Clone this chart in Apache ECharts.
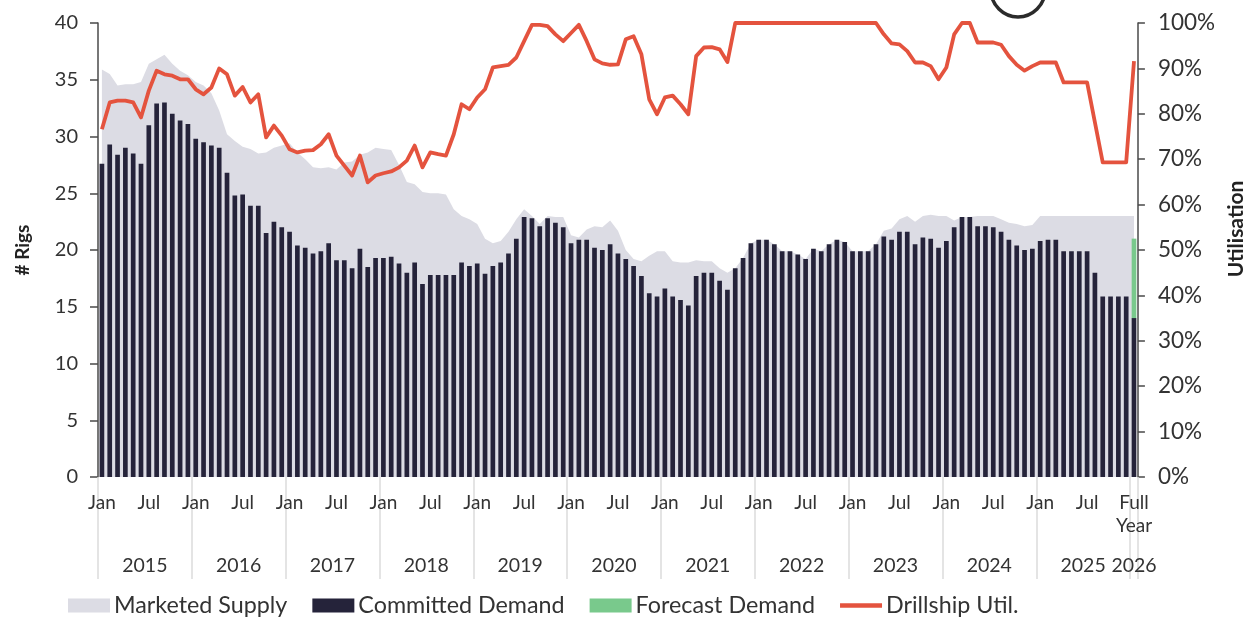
<!DOCTYPE html>
<html>
<head>
<meta charset="utf-8">
<title>Drillship supply, demand and utilisation</title>
<script src="https://cdn.jsdelivr.net/npm/echarts@6/dist/echarts.min.js"></script>
<style>
  html, body { margin: 0; padding: 0; background: #ffffff; }
  #chart { width: 1255px; height: 621px; }
</style>
</head>
<body>
<div id="chart"></div>
<script>
// Monthly categories Jan 2015 .. Dec 2025, then one "Full Year 2026" bucket
const years = [2015, 2016, 2017, 2018, 2019, 2020, 2021, 2022, 2023, 2024, 2025];
const monthNames = ['Jan', 'Feb', 'Mar', 'Apr', 'May', 'Jun', 'Jul', 'Aug', 'Sep', 'Oct', 'Nov', 'Dec'];
const fullYearLabel = '2026 FY';

// Marketed supply (# rigs)
const marketedSupply = [
  35.9, 35.5, 34.5, 34.6, 34.6, 34.8, 36.4, 36.8, 37.2, 36.4, 35.8, 35.4,
  34.8, 34.5, 33.8, 32.3, 30.2, 29.6, 29.1, 28.9, 28.5, 28.6, 29.0, 29.2,
  29.4, 28.6, 28.0, 27.3, 27.2, 27.3, 27.1, 27.7, 27.8, 28.4, 28.6, 29.0,
  28.9, 28.8, 27.5, 26.0, 25.8, 25.1, 25.0, 25.0, 24.9, 23.6, 23.0, 22.7,
  22.3, 21.0, 20.6, 20.8, 21.6, 22.7, 23.6, 23.0, 22.3, 23.0, 22.9, 22.9,
  21.3, 21.1, 21.8, 22.1, 22.0, 22.6, 21.7, 20.0, 19.2, 19.0, 19.5, 19.9,
  19.9, 19.0, 18.9, 18.9, 19.1, 19.0, 19.0, 18.4, 18.0, 18.4, 19.3, 20.6,
  20.9, 20.9, 20.5, 19.9, 19.9, 19.6, 19.2, 20.1, 19.9, 20.5, 20.9, 20.7,
  19.9, 19.9, 19.9, 20.5, 21.7, 21.9, 22.7, 23.0, 22.5, 23.0, 23.1, 23.0,
  23.0, 22.6, 22.9, 22.9, 23.0, 23.0, 23.0, 22.7, 22.4, 22.3, 22.1, 22.2,
  23.0, 23.0, 23.0, 23.0, 23.0, 23.0, 23.0, 23.0, 23.0, 23.0, 23.0, 23.0,
  23.0
];

// Committed demand (# rigs)
const committedDemand = [
  27.6, 29.3, 28.4, 29.0, 28.5, 27.6, 31.0, 32.9, 33.0, 32.0, 31.4, 31.1,
  29.8, 29.5, 29.2, 29.0, 26.8, 24.8, 24.9, 23.9, 23.9, 21.5, 22.5, 22.0,
  21.6, 20.4, 20.2, 19.7, 19.9, 20.6, 19.1, 19.1, 18.4, 20.1, 18.5, 19.3,
  19.3, 19.4, 18.8, 18.0, 18.9, 17.0, 17.8, 17.8, 17.8, 17.8, 18.9, 18.6,
  18.8, 17.9, 18.6, 18.9, 19.7, 21.0, 22.9, 22.8, 22.1, 22.8, 22.4, 22.0,
  20.6, 20.9, 20.9, 20.2, 20.0, 20.5, 19.7, 19.2, 18.6, 17.7, 16.2, 15.9,
  16.6, 15.9, 15.6, 15.1, 17.7, 18.0, 18.0, 17.3, 16.5, 18.4, 19.3, 20.6,
  20.9, 20.9, 20.5, 19.9, 19.9, 19.6, 19.2, 20.1, 19.9, 20.5, 20.9, 20.7,
  19.9, 19.9, 19.9, 20.5, 21.2, 20.9, 21.6, 21.6, 20.5, 21.1, 21.0, 20.2,
  20.8, 22.0, 22.9, 22.9, 22.1, 22.1, 22.0, 21.6, 20.9, 20.4, 20.0, 20.1,
  20.8, 20.9, 20.9, 19.9, 19.9, 19.9, 19.9, 18.0, 15.9, 15.9, 15.9, 15.9,
  14.0
];

// Forecast demand on top of committed demand (only the 2026 bucket)
const forecastDemand = new Array(132).fill(null).concat([7.0]);

// Drillship utilisation (%)
const drillshipUtil = [
  76.6, 82.5, 82.9, 82.9, 82.5, 79.2, 85.1, 89.5, 88.7, 88.4, 87.6, 87.6,
  85.4, 84.3, 85.8, 90.0, 88.7, 84.0, 85.9, 82.5, 84.3, 74.8, 77.4, 75.2,
  72.2, 71.5, 71.9, 72.0, 73.3, 75.5, 70.8, 68.6, 66.4, 70.8, 64.9, 66.4,
  66.9, 67.3, 68.2, 69.7, 73.0, 68.2, 71.5, 71.1, 70.8, 75.5, 82.1, 81.0,
  83.6, 85.4, 90.2, 90.5, 90.8, 92.4, 96.0, 99.6, 99.6, 99.3, 97.5, 96.0,
  97.8, 99.6, 96.0, 92.0, 91.1, 90.8, 90.9, 96.4, 97.1, 93.1, 83.2, 79.9,
  83.6, 84.0, 82.1, 79.9, 92.7, 94.6, 94.7, 94.2, 91.4, 100, 100, 100,
  100, 100, 100, 100, 100, 100, 100, 100, 100, 100, 100, 100,
  100, 100, 100, 100, 97.5, 95.5, 95.3, 93.8, 91.3, 91.3, 90.5, 87.6,
  90.2, 97.5, 100, 100, 95.7, 95.7, 95.7, 95.2, 92.7, 90.8, 89.5, 90.5,
  91.3, 91.3, 91.3, 86.9, 86.9, 86.9, 86.9, 78.1, 69.3, 69.3, 69.3, 69.3,
  91.6
];

// Axis tick labels
const rigTicks = [0, 5, 10, 15, 20, 25, 30, 35, 40];
const utilTicks = [0, 10, 20, 30, 40, 50, 60, 70, 80, 90, 100];

const categories = [];
years.forEach(y => monthNames.forEach(m => categories.push(m + ' ' + y)));
categories.push(fullYearLabel);
const lastIdx = categories.length - 1;

const FONT = 'Lato';
const TEXT = '#333333';
const AXIS = '#4a4a4a';
const RED = '#e4533e';

const chart = echarts.init(document.getElementById('chart'), null, { renderer: 'canvas' });

chart.setOption({
  backgroundColor: '#ffffff',
  animation: false,
  textStyle: { fontFamily: FONT, color: TEXT },
  grid: { left: 98, right: 113, top: 23, bottom: 144, containLabel: false },
  legend: {
    left: 63,
    top: 589,
    itemWidth: 42,
    itemHeight: 14,
    itemGap: 25,
    symbolKeepAspect: true,
    textStyle: { fontFamily: FONT, fontSize: 23.3, color: TEXT, padding: [0, 0, 0, -1] },
    data: [
      { name: 'Marketed Supply', icon: 'rect' },
      { name: 'Committed Demand', icon: 'rect' },
      { name: 'Forecast Demand', icon: 'rect' },
      { name: 'Drillship Util.', icon: 'path://M0,0L42,0L42,4.5L0,4.5Z', itemStyle: { color: RED } }
    ]
  },
  xAxis: [
    {
      type: 'category',
      data: categories,
      boundaryGap: true,
      axisLine: { show: false },
      axisTick: {
        show: true,
        interval: (i) => i % 12 === 0 || i === lastIdx,
        length: 102,
        lineStyle: { color: '#dcdcdc', width: 1.5 }
      },
      axisLabel: {
        interval: 0,
        margin: 14,
        fontFamily: FONT,
        fontSize: 19,
        color: TEXT,
        lineHeight: 23,
        formatter: (v, i) => {
          if (i === lastIdx) return 'Full\nYear';
          if (i % 12 === 0) return 'Jan';
          if (i % 12 === 6) return 'Jul';
          return '';
        }
      },
      splitLine: { show: false }
    },
    {
      type: 'category',
      data: categories,
      position: 'bottom',
      boundaryGap: true,
      axisLine: { show: false },
      axisTick: { show: false },
      axisLabel: {
        interval: 0,
        margin: 79,
        fontFamily: FONT,
        fontSize: 19.5,
        color: TEXT,
        formatter: (v, i) => {
          if (i === lastIdx) return '{z|2026}';
          if (i % 12 === 6) return '{y|' + years[Math.floor(i / 12)] + '}';
          return '';
        },
        rich: {
          y: { fontFamily: FONT, fontSize: 19.5, color: TEXT, padding: [0, 8, 0, 0] },
          z: { fontFamily: FONT, fontSize: 19.5, color: TEXT }
        }
      },
      splitLine: { show: false }
    }
  ],
  yAxis: [
    {
      type: 'value',
      min: rigTicks[0],
      max: rigTicks[rigTicks.length - 1],
      interval: 5,
      position: 'left',
      name: '# Rigs',
      nameLocation: 'middle',
      nameRotate: 90,
      nameGap: 66,
      nameTextStyle: { fontFamily: FONT, fontSize: 19, fontWeight: 'bold', color: '#222' },
      axisLine: { show: true, lineStyle: { color: AXIS, width: 1.5 } },
      axisTick: { show: true, length: 8, lineStyle: { color: AXIS, width: 1.5 } },
      axisLabel: { margin: 20, fontFamily: FONT, fontSize: 20, color: TEXT },
      splitLine: { show: false }
    },
    {
      type: 'value',
      min: utilTicks[0],
      max: utilTicks[utilTicks.length - 1],
      interval: 10,
      position: 'right',
      name: 'Utilisation',
      nameLocation: 'middle',
      nameRotate: 90,
      nameGap: 88,
      nameTextStyle: { fontFamily: FONT, fontSize: 21, fontWeight: 'bold', color: '#222', padding: [0, 0, 0, 42] },
      axisLine: { show: true, lineStyle: { color: AXIS, width: 1.5 } },
      axisTick: { show: true, length: 7, lineStyle: { color: AXIS, width: 1.5 } },
      axisLabel: { margin: 20, fontFamily: FONT, fontSize: 22.5, color: TEXT, formatter: '{value}%' },
      splitLine: { show: false }
    }
  ],
  series: [
    {
      name: 'Marketed Supply',
      type: 'line',
      data: marketedSupply,
      symbol: 'none',
      z: 1,
      itemStyle: { color: '#dcdce4' },
      lineStyle: { width: 0, color: '#dcdce4' },
      areaStyle: { color: '#dcdce4', opacity: 1 }
    },
    {
      name: 'Committed Demand',
      type: 'bar',
      stack: 'demand',
      data: committedDemand,
      barWidth: '60%',
      z: 2,
      itemStyle: { color: '#25233a' }
    },
    {
      name: 'Forecast Demand',
      type: 'bar',
      stack: 'demand',
      data: forecastDemand,
      barWidth: '60%',
      z: 2,
      itemStyle: { color: '#79c98c' }
    },
    {
      name: 'Drillship Util.',
      type: 'line',
      yAxisIndex: 1,
      data: drillshipUtil,
      symbol: 'none',
      clip: false,
      z: 3,
      itemStyle: { color: RED },
      lineStyle: { width: 3.8, color: RED, join: 'round' }
    }
  ],
  graphic: [
    {
      type: 'circle',
      shape: { cx: 1018, cy: -10, r: 27 },
      style: { fill: 'none', stroke: '#2b2b2b', lineWidth: 3.5 },
      silent: true
    }
  ]
});
</script>
</body>
</html>
